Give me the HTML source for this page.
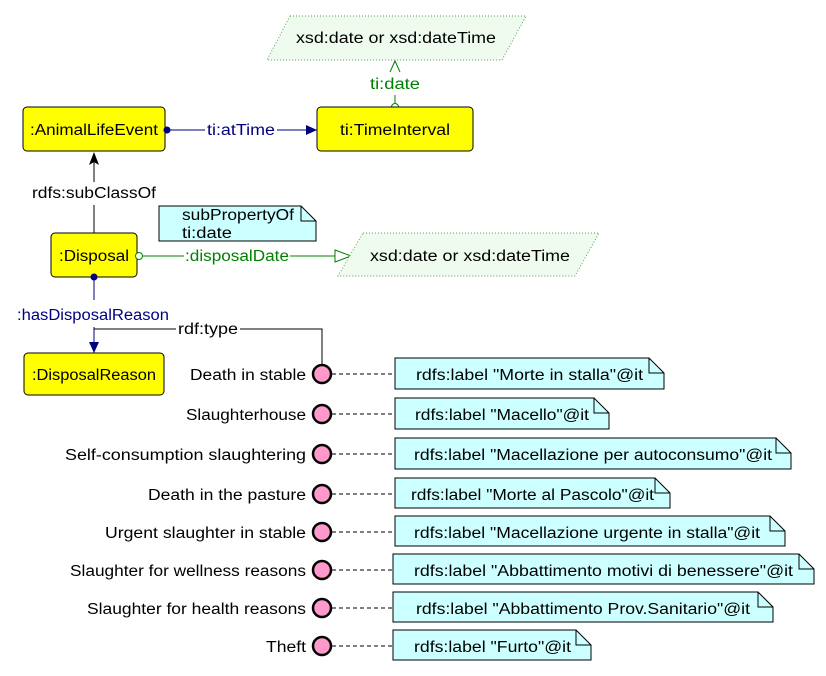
<!DOCTYPE html>
<html><head><meta charset="utf-8"><style>
html,body{margin:0;padding:0;background:#fff;}
svg text{font-family:"Liberation Sans",sans-serif;font-size:15.5px;}
</style></head><body>
<svg width="826" height="671" viewBox="0 0 826 671" xmlns="http://www.w3.org/2000/svg">
<defs>
<marker id="ab" markerWidth="12" markerHeight="12" refX="11" refY="6" orient="auto" markerUnits="userSpaceOnUse"><path d="M0,1 L11,6 L0,11 Z" fill="#000080"/></marker>
</defs>
<polygon points="290,16 526,16 502,60 267,60" fill="#eefbee" stroke="#5a9a5a" stroke-dasharray="1,2"/>
<text x="396" y="43" text-anchor="middle" textLength="200" lengthAdjust="spacingAndGlyphs">xsd:date or xsd:dateTime</text>
<line x1="395" y1="95" x2="395" y2="104" stroke="#008000"/>
<circle cx="395" cy="107" r="3.5" fill="#fff" stroke="#008000"/>
<text x="395" y="89" text-anchor="middle" fill="#008000" textLength="50" lengthAdjust="spacingAndGlyphs">ti:date</text>
<path d="M390,72 L395,61 L400,72" fill="none" stroke="#008000"/>
<rect x="23" y="107" width="142" height="44" rx="4" fill="#ffff00" stroke="#000"/>
<text x="94" y="135" text-anchor="middle" textLength="128" lengthAdjust="spacingAndGlyphs">:AnimalLifeEvent</text>
<rect x="317" y="107" width="156" height="44" rx="4" fill="#ffff00" stroke="#000"/>
<text x="395" y="135" text-anchor="middle" textLength="110" lengthAdjust="spacingAndGlyphs">ti:TimeInterval</text>
<line x1="167" y1="130" x2="205" y2="130" stroke="#000080"/>
<line x1="277" y1="130" x2="317" y2="130" stroke="#000080" marker-end="url(#ab)"/>
<circle cx="167" cy="130" r="3.5" fill="#000080"/>
<text x="241" y="135" text-anchor="middle" fill="#000080" textLength="68" lengthAdjust="spacingAndGlyphs">ti:atTime</text>
<line x1="94" y1="233" x2="94" y2="205" stroke="#000"/>
<line x1="94" y1="182" x2="94" y2="158" stroke="#000"/>
<path d="M89,165 L94,152 L99,165 L94,162 Z" fill="#000"/>
<text x="94" y="198" text-anchor="middle" textLength="124" lengthAdjust="spacingAndGlyphs">rdfs:subClassOf</text>
<polygon points="159,206 301,206 316,221 316,241 159,241" fill="#ccffff" stroke="#000"/>
<path d="M301,206 L301,221 L316,221" fill="none" stroke="#000"/>
<text x="182" y="220" textLength="112" lengthAdjust="spacingAndGlyphs">subPropertyOf</text>
<text x="182" y="238" textLength="50" lengthAdjust="spacingAndGlyphs">ti:date</text>
<rect x="51" y="233" width="86" height="44" rx="4" fill="#ffff00" stroke="#000"/>
<text x="94" y="261" text-anchor="middle" textLength="70" lengthAdjust="spacingAndGlyphs">:Disposal</text>
<line x1="142" y1="256" x2="184" y2="256" stroke="#008000"/>
<line x1="290" y1="256" x2="335" y2="256" stroke="#008000"/>
<circle cx="139" cy="256" r="3.5" fill="#fff" stroke="#008000"/>
<path d="M335,250 L351,256 L335,262 Z" fill="#fff" stroke="#008000"/>
<text x="237" y="261" text-anchor="middle" fill="#008000" textLength="104" lengthAdjust="spacingAndGlyphs">:disposalDate</text>
<polygon points="363,233 599,233 575,276 338,276" fill="#eefbee" stroke="#5a9a5a" stroke-dasharray="1,2"/>
<text x="470" y="261" text-anchor="middle" textLength="200" lengthAdjust="spacingAndGlyphs">xsd:date or xsd:dateTime</text>
<circle cx="94" cy="277" r="3.5" fill="#000080"/>
<line x1="94" y1="278" x2="94" y2="300" stroke="#000080"/>
<text x="93" y="320" text-anchor="middle" fill="#000080" textLength="152" lengthAdjust="spacingAndGlyphs">:hasDisposalReason</text>
<line x1="94" y1="327" x2="94" y2="353" stroke="#000080" marker-end="url(#ab)"/>
<path d="M94,329 L176,329 M240,329 L322,329 L322,364" fill="none" stroke="#000"/>
<text x="208" y="334" text-anchor="middle" textLength="60" lengthAdjust="spacingAndGlyphs">rdf:type</text>
<rect x="24" y="353" width="140" height="42" rx="4" fill="#ffff00" stroke="#000"/>
<text x="94" y="380" text-anchor="middle" textLength="124" lengthAdjust="spacingAndGlyphs">:DisposalReason</text>
<g stroke="#000">
<line x1="332" y1="374" x2="395" y2="374" stroke-dasharray="4,3"/>
<line x1="332" y1="414" x2="395" y2="414" stroke-dasharray="4,3"/>
<line x1="332" y1="454" x2="395" y2="454" stroke-dasharray="4,3"/>
<line x1="332" y1="494" x2="395" y2="494" stroke-dasharray="4,3"/>
<line x1="332" y1="532" x2="395" y2="532" stroke-dasharray="4,3"/>
<line x1="332" y1="570" x2="393" y2="570" stroke-dasharray="4,3"/>
<line x1="332" y1="608" x2="393" y2="608" stroke-dasharray="4,3"/>
<line x1="332" y1="646" x2="393" y2="646" stroke-dasharray="4,3"/>
</g>
<g fill="#ff99cc" stroke="#000" stroke-width="2.5">
<circle cx="322" cy="374" r="9"/><circle cx="322" cy="414" r="9"/><circle cx="322" cy="454" r="9"/><circle cx="322" cy="494" r="9"/>
<circle cx="322" cy="532" r="9"/><circle cx="322" cy="570" r="9"/><circle cx="322" cy="608" r="9"/><circle cx="322" cy="646" r="9"/>
</g>
<g text-anchor="end">
<text x="306" y="380" textLength="116" lengthAdjust="spacingAndGlyphs">Death in stable</text>
<text x="306" y="420" textLength="120" lengthAdjust="spacingAndGlyphs">Slaughterhouse</text>
<text x="306" y="460" textLength="241" lengthAdjust="spacingAndGlyphs">Self-consumption slaughtering</text>
<text x="306" y="500" textLength="158" lengthAdjust="spacingAndGlyphs">Death in the pasture</text>
<text x="306" y="538" textLength="201" lengthAdjust="spacingAndGlyphs">Urgent slaughter in stable</text>
<text x="306" y="576" textLength="236" lengthAdjust="spacingAndGlyphs">Slaughter for wellness reasons</text>
<text x="306" y="614" textLength="219" lengthAdjust="spacingAndGlyphs">Slaughter for health reasons</text>
<text x="306" y="652" textLength="40" lengthAdjust="spacingAndGlyphs">Theft</text>
</g>
<g fill="#ccffff" stroke="#000">
<polygon points="395,358 649,358 664,373 664,389 395,389"/><path d="M649,358 L649,373 L664,373" fill="none"/>
<polygon points="395,398 594,398 609,413 609,429 395,429"/><path d="M594,398 L594,413 L609,413" fill="none"/>
<polygon points="395,438 776,438 791,453 791,469 395,469"/><path d="M776,438 L776,453 L791,453" fill="none"/>
<polygon points="395,478 655,478 670,493 670,508 395,508"/><path d="M655,478 L655,493 L670,493" fill="none"/>
<polygon points="395,516 770,516 785,531 785,546 395,546"/><path d="M770,516 L770,531 L785,531" fill="none"/>
<polygon points="393,554 799,554 814,569 814,584 393,584"/><path d="M799,554 L799,569 L814,569" fill="none"/>
<polygon points="393,592 758,592 773,607 773,622 393,622"/><path d="M758,592 L758,607 L773,607" fill="none"/>
<polygon points="393,630 576,630 591,645 591,660 393,660"/><path d="M576,630 L576,645 L591,645" fill="none"/>
</g>
<g>
<text x="416" y="380" textLength="227" lengthAdjust="spacingAndGlyphs">rdfs:label "Morte in stalla"@it</text>
<text x="415" y="420" textLength="174" lengthAdjust="spacingAndGlyphs">rdfs:label "Macello"@it</text>
<text x="414" y="460" textLength="358" lengthAdjust="spacingAndGlyphs">rdfs:label "Macellazione per autoconsumo"@it</text>
<text x="411" y="500" textLength="243" lengthAdjust="spacingAndGlyphs">rdfs:label "Morte al Pascolo"@it</text>
<text x="414" y="538" textLength="346" lengthAdjust="spacingAndGlyphs">rdfs:label "Macellazione urgente in stalla"@it</text>
<text x="414" y="576" textLength="379" lengthAdjust="spacingAndGlyphs">rdfs:label "Abbattimento motivi di benessere"@it</text>
<text x="416" y="614" textLength="334" lengthAdjust="spacingAndGlyphs">rdfs:label "Abbattimento Prov.Sanitario"@it</text>
<text x="414" y="652" textLength="157" lengthAdjust="spacingAndGlyphs">rdfs:label "Furto"@it</text>
</g>
</svg>
</body></html>
